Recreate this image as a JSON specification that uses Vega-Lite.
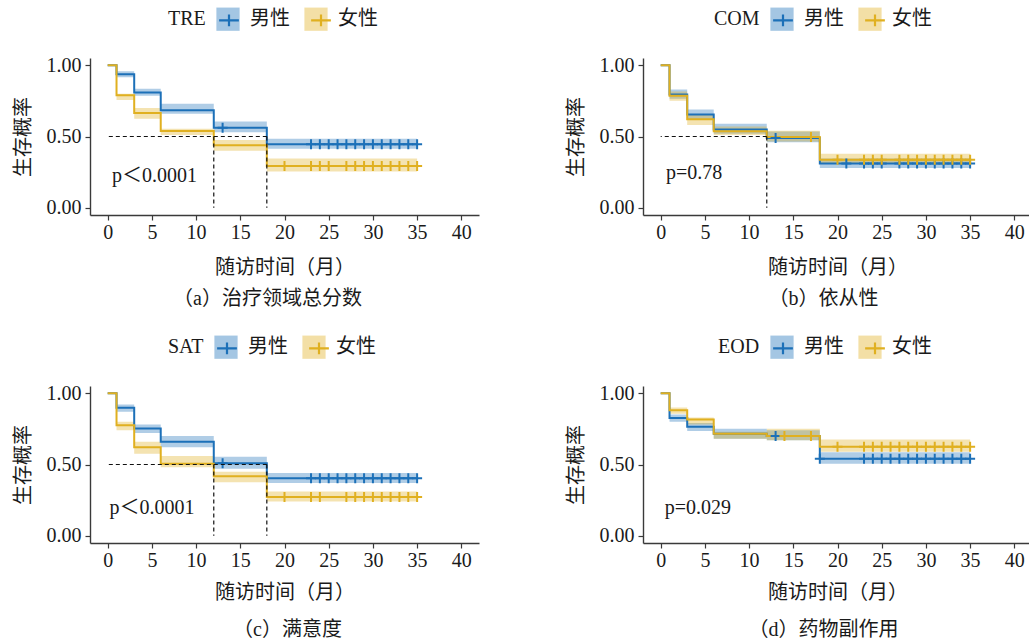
{
  "$schema": "https://vega.github.io/schema/vega-lite/v6.json",
  "background": "white",
  "padding": {"left": 13, "top": 7, "right": 0, "bottom": 0},
  "config": {
    "font": "'Liberation Serif', 'Noto Sans CJK SC'",
    "view": {"stroke": null},
    "axis": {"grid": false, "domainColor": "#3a3a3a", "tickColor": "#3a3a3a", "domainWidth": 1.4, "tickWidth": 1.2, "tickSize": 5, "labelFontSize": 20, "labelColor": "#1a1a1a", "titleFontSize": 20, "titleFontWeight": "normal", "titleColor": "#1a1a1a", "labelOverlap": false, "labelFlush": false},
    "axisX": {"labelPadding": 2},
    "axisY": {"labelPadding": 4, "titlePadding": 13},
    "legend": {"padding": 0, "labelFontSize": 20, "titleFontSize": 20, "titleFontWeight": "normal", "labelColor": "#1a1a1a", "titleColor": "#1a1a1a"},
    "title": {"orient": "bottom", "fontSize": 20, "fontWeight": "normal", "color": "#1a1a1a", "anchor": "middle", "frame": "group"}
  },
  "datasets": {
    "a_curve": [
      {"sex": "男性", "t": 0, "s": 1, "lo": 1, "hi": 1},
      {"sex": "男性", "t": 1, "s": 0.937, "lo": 0.915, "hi": 0.957},
      {"sex": "男性", "t": 3, "s": 0.808, "lo": 0.785, "hi": 0.835},
      {"sex": "男性", "t": 6, "s": 0.684, "lo": 0.66, "hi": 0.73},
      {"sex": "男性", "t": 12, "s": 0.562, "lo": 0.53, "hi": 0.605},
      {"sex": "男性", "t": 18, "s": 0.445, "lo": 0.415, "hi": 0.485},
      {"sex": "男性", "t": 35, "s": 0.445, "lo": 0.415, "hi": 0.485},
      {"sex": "女性", "t": 0, "s": 1, "lo": 1, "hi": 1},
      {"sex": "女性", "t": 1, "s": 0.789, "lo": 0.755, "hi": 0.8},
      {"sex": "女性", "t": 3, "s": 0.665, "lo": 0.625, "hi": 0.7},
      {"sex": "女性", "t": 6, "s": 0.539, "lo": 0.51, "hi": 0.555},
      {"sex": "女性", "t": 12, "s": 0.438, "lo": 0.4, "hi": 0.475},
      {"sex": "女性", "t": 18, "s": 0.293, "lo": 0.255, "hi": 0.345},
      {"sex": "女性", "t": 35, "s": 0.293, "lo": 0.255, "hi": 0.345}
    ],
    "a_cens": [
      {"sex": "男性", "t": 13, "s": 0.562},
      {"sex": "男性", "t": 23, "s": 0.445}, {"sex": "男性", "t": 24, "s": 0.445}, {"sex": "男性", "t": 25, "s": 0.445},
      {"sex": "男性", "t": 26, "s": 0.445}, {"sex": "男性", "t": 27, "s": 0.445}, {"sex": "男性", "t": 28, "s": 0.445},
      {"sex": "男性", "t": 29, "s": 0.445}, {"sex": "男性", "t": 30, "s": 0.445}, {"sex": "男性", "t": 31, "s": 0.445},
      {"sex": "男性", "t": 32, "s": 0.445}, {"sex": "男性", "t": 33, "s": 0.445}, {"sex": "男性", "t": 34, "s": 0.445},
      {"sex": "男性", "t": 35, "s": 0.445},
      {"sex": "女性", "t": 20, "s": 0.293},
      {"sex": "女性", "t": 23, "s": 0.293}, {"sex": "女性", "t": 24, "s": 0.293}, {"sex": "女性", "t": 25, "s": 0.293},
      {"sex": "女性", "t": 27, "s": 0.293}, {"sex": "女性", "t": 28, "s": 0.293}, {"sex": "女性", "t": 29, "s": 0.293},
      {"sex": "女性", "t": 30, "s": 0.293}, {"sex": "女性", "t": 31, "s": 0.293}, {"sex": "女性", "t": 32, "s": 0.293},
      {"sex": "女性", "t": 33, "s": 0.293}, {"sex": "女性", "t": 34, "s": 0.293}, {"sex": "女性", "t": 35, "s": 0.293}
    ],
    "a_med": [{"t": 12}, {"t": 18}],
    "b_curve": [
      {"sex": "男性", "t": 0, "s": 1, "lo": 1, "hi": 1},
      {"sex": "男性", "t": 1, "s": 0.794, "lo": 0.765, "hi": 0.83},
      {"sex": "男性", "t": 3, "s": 0.654, "lo": 0.62, "hi": 0.69},
      {"sex": "男性", "t": 6, "s": 0.549, "lo": 0.52, "hi": 0.59},
      {"sex": "男性", "t": 12, "s": 0.49, "lo": 0.46, "hi": 0.535},
      {"sex": "男性", "t": 18, "s": 0.31, "lo": 0.28, "hi": 0.345},
      {"sex": "男性", "t": 35, "s": 0.31, "lo": 0.28, "hi": 0.345},
      {"sex": "女性", "t": 0, "s": 1, "lo": 1, "hi": 1},
      {"sex": "女性", "t": 1, "s": 0.785, "lo": 0.75, "hi": 0.815},
      {"sex": "女性", "t": 3, "s": 0.62, "lo": 0.58, "hi": 0.65},
      {"sex": "女性", "t": 6, "s": 0.537, "lo": 0.51, "hi": 0.57},
      {"sex": "女性", "t": 12, "s": 0.497, "lo": 0.465, "hi": 0.54},
      {"sex": "女性", "t": 18, "s": 0.337, "lo": 0.31, "hi": 0.38},
      {"sex": "女性", "t": 35, "s": 0.337, "lo": 0.31, "hi": 0.38}
    ],
    "b_cens": [
      {"sex": "男性", "t": 13, "s": 0.49},
      {"sex": "男性", "t": 21, "s": 0.31},
      {"sex": "男性", "t": 23, "s": 0.31}, {"sex": "男性", "t": 24, "s": 0.31}, {"sex": "男性", "t": 25, "s": 0.31},
      {"sex": "男性", "t": 27, "s": 0.31}, {"sex": "男性", "t": 28, "s": 0.31}, {"sex": "男性", "t": 29, "s": 0.31},
      {"sex": "男性", "t": 30, "s": 0.31}, {"sex": "男性", "t": 31, "s": 0.31}, {"sex": "男性", "t": 32, "s": 0.31},
      {"sex": "男性", "t": 33, "s": 0.31}, {"sex": "男性", "t": 34, "s": 0.31}, {"sex": "男性", "t": 35, "s": 0.31},
      {"sex": "女性", "t": 17, "s": 0.497},
      {"sex": "女性", "t": 20, "s": 0.337},
      {"sex": "女性", "t": 23, "s": 0.337}, {"sex": "女性", "t": 24, "s": 0.337}, {"sex": "女性", "t": 25, "s": 0.337},
      {"sex": "女性", "t": 27, "s": 0.337}, {"sex": "女性", "t": 28, "s": 0.337}, {"sex": "女性", "t": 29, "s": 0.337},
      {"sex": "女性", "t": 30, "s": 0.337}, {"sex": "女性", "t": 31, "s": 0.337}, {"sex": "女性", "t": 32, "s": 0.337},
      {"sex": "女性", "t": 33, "s": 0.337}, {"sex": "女性", "t": 34, "s": 0.337}, {"sex": "女性", "t": 35, "s": 0.337}
    ],
    "b_med": [{"t": 12}],
    "c_curve": [
      {"sex": "男性", "t": 0, "s": 1, "lo": 1, "hi": 1},
      {"sex": "男性", "t": 1, "s": 0.898, "lo": 0.87, "hi": 0.92},
      {"sex": "男性", "t": 3, "s": 0.752, "lo": 0.72, "hi": 0.78},
      {"sex": "男性", "t": 6, "s": 0.66, "lo": 0.62, "hi": 0.7},
      {"sex": "男性", "t": 12, "s": 0.509, "lo": 0.47, "hi": 0.555},
      {"sex": "男性", "t": 18, "s": 0.403, "lo": 0.37, "hi": 0.44},
      {"sex": "男性", "t": 35, "s": 0.403, "lo": 0.37, "hi": 0.44},
      {"sex": "女性", "t": 0, "s": 1, "lo": 1, "hi": 1},
      {"sex": "女性", "t": 1, "s": 0.775, "lo": 0.74, "hi": 0.8},
      {"sex": "女性", "t": 3, "s": 0.62, "lo": 0.575, "hi": 0.66},
      {"sex": "女性", "t": 6, "s": 0.505, "lo": 0.48, "hi": 0.56},
      {"sex": "女性", "t": 12, "s": 0.417, "lo": 0.375, "hi": 0.45},
      {"sex": "女性", "t": 18, "s": 0.273, "lo": 0.24, "hi": 0.31},
      {"sex": "女性", "t": 35, "s": 0.273, "lo": 0.24, "hi": 0.31}
    ],
    "c_cens": [
      {"sex": "男性", "t": 13, "s": 0.509},
      {"sex": "男性", "t": 23, "s": 0.403}, {"sex": "男性", "t": 24, "s": 0.403}, {"sex": "男性", "t": 25, "s": 0.403},
      {"sex": "男性", "t": 26, "s": 0.403}, {"sex": "男性", "t": 27, "s": 0.403}, {"sex": "男性", "t": 28, "s": 0.403},
      {"sex": "男性", "t": 29, "s": 0.403}, {"sex": "男性", "t": 30, "s": 0.403}, {"sex": "男性", "t": 31, "s": 0.403},
      {"sex": "男性", "t": 32, "s": 0.403}, {"sex": "男性", "t": 33, "s": 0.403}, {"sex": "男性", "t": 34, "s": 0.403},
      {"sex": "男性", "t": 35, "s": 0.403},
      {"sex": "女性", "t": 20, "s": 0.273},
      {"sex": "女性", "t": 23, "s": 0.273}, {"sex": "女性", "t": 24, "s": 0.273},
      {"sex": "女性", "t": 27, "s": 0.273}, {"sex": "女性", "t": 28, "s": 0.273}, {"sex": "女性", "t": 29, "s": 0.273},
      {"sex": "女性", "t": 30, "s": 0.273}, {"sex": "女性", "t": 31, "s": 0.273}, {"sex": "女性", "t": 32, "s": 0.273},
      {"sex": "女性", "t": 33, "s": 0.273}, {"sex": "女性", "t": 34, "s": 0.273}, {"sex": "女性", "t": 35, "s": 0.273}
    ],
    "c_med": [{"t": 12}, {"t": 18}],
    "d_curve": [
      {"sex": "男性", "t": 0, "s": 1, "lo": 1, "hi": 1},
      {"sex": "男性", "t": 1, "s": 0.826, "lo": 0.8, "hi": 0.85},
      {"sex": "男性", "t": 3, "s": 0.764, "lo": 0.735, "hi": 0.79},
      {"sex": "男性", "t": 6, "s": 0.715, "lo": 0.68, "hi": 0.75},
      {"sex": "男性", "t": 12, "s": 0.7, "lo": 0.67, "hi": 0.74},
      {"sex": "男性", "t": 18, "s": 0.54, "lo": 0.505, "hi": 0.585},
      {"sex": "男性", "t": 35, "s": 0.54, "lo": 0.505, "hi": 0.585},
      {"sex": "女性", "t": 0, "s": 1, "lo": 1, "hi": 1},
      {"sex": "女性", "t": 1, "s": 0.88, "lo": 0.855, "hi": 0.9},
      {"sex": "女性", "t": 3, "s": 0.815, "lo": 0.78, "hi": 0.83},
      {"sex": "女性", "t": 6, "s": 0.715, "lo": 0.68, "hi": 0.73},
      {"sex": "女性", "t": 12, "s": 0.7, "lo": 0.67, "hi": 0.75},
      {"sex": "女性", "t": 18, "s": 0.625, "lo": 0.59, "hi": 0.675},
      {"sex": "女性", "t": 35, "s": 0.625, "lo": 0.59, "hi": 0.675}
    ],
    "d_cens": [
      {"sex": "男性", "t": 13, "s": 0.7},
      {"sex": "男性", "t": 18, "s": 0.54},
      {"sex": "男性", "t": 23, "s": 0.54}, {"sex": "男性", "t": 24, "s": 0.54}, {"sex": "男性", "t": 25, "s": 0.54},
      {"sex": "男性", "t": 26, "s": 0.54}, {"sex": "男性", "t": 27, "s": 0.54}, {"sex": "男性", "t": 28, "s": 0.54},
      {"sex": "男性", "t": 29, "s": 0.54}, {"sex": "男性", "t": 30, "s": 0.54}, {"sex": "男性", "t": 31, "s": 0.54},
      {"sex": "男性", "t": 32, "s": 0.54}, {"sex": "男性", "t": 33, "s": 0.54}, {"sex": "男性", "t": 34, "s": 0.54},
      {"sex": "男性", "t": 35, "s": 0.54},
      {"sex": "女性", "t": 14, "s": 0.7},
      {"sex": "女性", "t": 17, "s": 0.7},
      {"sex": "女性", "t": 20, "s": 0.625},
      {"sex": "女性", "t": 23, "s": 0.625}, {"sex": "女性", "t": 24, "s": 0.625}, {"sex": "女性", "t": 25, "s": 0.625},
      {"sex": "女性", "t": 26, "s": 0.625}, {"sex": "女性", "t": 27, "s": 0.625}, {"sex": "女性", "t": 28, "s": 0.625},
      {"sex": "女性", "t": 29, "s": 0.625}, {"sex": "女性", "t": 30, "s": 0.625}, {"sex": "女性", "t": 31, "s": 0.625},
      {"sex": "女性", "t": 32, "s": 0.625}, {"sex": "女性", "t": 33, "s": 0.625}, {"sex": "女性", "t": 34, "s": 0.625},
      {"sex": "女性", "t": 35, "s": 0.625}
    ]
  },
  "spacing": 26,
  "vconcat": [
    {
      "spacing": 87,
      "hconcat": [
        {
          "width": 389, "height": 157,
          "title": {"text": "（a）治疗领域总分数", "dx": -17, "offset": 12},
          "resolve": {"scale": {"fill": "independent", "stroke": "independent"}},
          "layer": [
            {"data": {"name": "a_curve"}, "mark": {"type": "area", "interpolate": "step-after", "fillOpacity": 0.35},
             "encoding": {
               "x": {"field": "t", "type": "quantitative", "title": "随访时间（月）", "scale": {"domain": [-2, 42], "nice": false, "zero": false}, "axis": {"values": [0, 5, 10, 15, 20, 25, 30, 35, 40], "titlePadding": 15}},
               "y": {"field": "lo", "type": "quantitative", "title": "生存概率", "scale": {"domain": [-0.05, 1.05], "nice": false, "zero": false}, "axis": {"values": [0, 0.25, 0.5, 0.75, 1], "format": ".2f"}},
               "y2": {"field": "hi"},
               "fill": {"field": "sex", "type": "nominal", "scale": {"domain": ["男性", "女性"], "range": ["#1C70B8", "#E0B020"]},
                        "legend": {"title": "TRE", "orient": "none", "legendX": 78, "legendY": -51, "direction": "horizontal", "titleOrient": "left", "titlePadding": 10, "symbolType": "square", "symbolSize": 540, "symbolOpacity": 0.4, "symbolStrokeWidth": 0, "labelOffset": 10, "columnPadding": 14}}
             }},
            {"data": {"name": "a_curve"}, "mark": {"type": "line", "interpolate": "step-after", "strokeWidth": 2},
             "encoding": {
               "x": {"field": "t", "type": "quantitative", "title": "随访时间（月）"},
               "y": {"field": "s", "type": "quantitative", "title": "生存概率"},
               "stroke": {"field": "sex", "type": "nominal", "scale": {"domain": ["男性", "女性"], "range": ["#1C70B8", "#E0B020"]},
                          "legend": {"title": "TRE", "orient": "none", "legendX": 78, "legendY": -51, "direction": "horizontal", "titleOrient": "left", "titlePadding": 10, "symbolType": "M-0.85,0H0.85M0,-0.5V0.5", "symbolSize": 540, "symbolStrokeWidth": 2.2, "symbolFillColor": "transparent", "labelOffset": 10, "columnPadding": 14, "titleColor": "transparent", "labelColor": "transparent"}}
             }},
            {"data": {"name": "a_cens"}, "mark": {"type": "point", "shape": "M-1,0H1M0,-1V1", "filled": false, "size": 100, "strokeWidth": 2, "opacity": 1},
             "encoding": {
               "x": {"field": "t", "type": "quantitative", "title": "随访时间（月）"},
               "y": {"field": "s", "type": "quantitative", "title": "生存概率"},
               "stroke": {"field": "sex", "type": "nominal", "scale": {"domain": ["男性", "女性"], "range": ["#1C70B8", "#E0B020"]}, "legend": null}
             }},
            {"data": {"name": "a_med"}, "mark": {"type": "rule", "strokeDash": [4, 3], "color": "#111111", "strokeWidth": 1.2},
             "encoding": {
               "x": {"field": "t", "type": "quantitative", "title": "随访时间（月）"},
               "y": {"datum": 0.5, "type": "quantitative"},
               "y2": {"datum": 0}
             }},
            {"data": {"name": "a_med"}, "transform": [{"aggregate": [{"op": "max", "field": "t", "as": "t"}]}],
             "mark": {"type": "rule", "strokeDash": [4, 3], "color": "#111111", "strokeWidth": 1.2},
             "encoding": {
               "x": {"field": "t", "type": "quantitative", "title": "随访时间（月）"},
               "x2": {"datum": 0},
               "y": {"datum": 0.5, "type": "quantitative"}
             }},
            {"data": {"values": [{"label": "p＜0.0001"}]}, "mark": {"type": "text", "align": "left", "baseline": "middle", "fontSize": 20, "color": "#1a1a1a"},
             "encoding": {
               "x": {"datum": 0.5, "type": "quantitative"},
               "y": {"datum": 0.22, "type": "quantitative"},
               "text": {"field": "label", "type": "nominal"}
             }}
          ]
        },
        {
          "width": 389, "height": 157,
          "title": {"text": "（b）依从性", "dx": -14, "offset": 12},
          "resolve": {"scale": {"fill": "independent", "stroke": "independent"}},
          "layer": [
            {"data": {"name": "b_curve"}, "mark": {"type": "area", "interpolate": "step-after", "fillOpacity": 0.35},
             "encoding": {
               "x": {"field": "t", "type": "quantitative", "title": "随访时间（月）", "scale": {"domain": [-2, 42], "nice": false, "zero": false}, "axis": {"values": [0, 5, 10, 15, 20, 25, 30, 35, 40], "titlePadding": 15}},
               "y": {"field": "lo", "type": "quantitative", "title": "生存概率", "scale": {"domain": [-0.05, 1.05], "nice": false, "zero": false}, "axis": {"values": [0, 0.25, 0.5, 0.75, 1], "format": ".2f"}},
               "y2": {"field": "hi"},
               "fill": {"field": "sex", "type": "nominal", "scale": {"domain": ["男性", "女性"], "range": ["#1C70B8", "#E0B020"]},
                        "legend": {"title": "COM", "orient": "none", "legendX": 71, "legendY": -51, "direction": "horizontal", "titleOrient": "left", "titlePadding": 10, "symbolType": "square", "symbolSize": 540, "symbolOpacity": 0.4, "symbolStrokeWidth": 0, "labelOffset": 10, "columnPadding": 14}}
             }},
            {"data": {"name": "b_curve"}, "mark": {"type": "line", "interpolate": "step-after", "strokeWidth": 2},
             "encoding": {
               "x": {"field": "t", "type": "quantitative", "title": "随访时间（月）"},
               "y": {"field": "s", "type": "quantitative", "title": "生存概率"},
               "stroke": {"field": "sex", "type": "nominal", "scale": {"domain": ["男性", "女性"], "range": ["#1C70B8", "#E0B020"]},
                          "legend": {"title": "COM", "orient": "none", "legendX": 71, "legendY": -51, "direction": "horizontal", "titleOrient": "left", "titlePadding": 10, "symbolType": "M-0.85,0H0.85M0,-0.5V0.5", "symbolSize": 540, "symbolStrokeWidth": 2.2, "symbolFillColor": "transparent", "labelOffset": 10, "columnPadding": 14, "titleColor": "transparent", "labelColor": "transparent"}}
             }},
            {"data": {"name": "b_cens"}, "mark": {"type": "point", "shape": "M-1,0H1M0,-1V1", "filled": false, "size": 100, "strokeWidth": 2, "opacity": 1},
             "encoding": {
               "x": {"field": "t", "type": "quantitative", "title": "随访时间（月）"},
               "y": {"field": "s", "type": "quantitative", "title": "生存概率"},
               "stroke": {"field": "sex", "type": "nominal", "scale": {"domain": ["男性", "女性"], "range": ["#1C70B8", "#E0B020"]}, "legend": null}
             }},
            {"data": {"name": "b_med"}, "mark": {"type": "rule", "strokeDash": [4, 3], "color": "#111111", "strokeWidth": 1.2},
             "encoding": {
               "x": {"field": "t", "type": "quantitative", "title": "随访时间（月）"},
               "y": {"datum": 0.5, "type": "quantitative"},
               "y2": {"datum": 0}
             }},
            {"data": {"name": "b_med"}, "transform": [{"aggregate": [{"op": "max", "field": "t", "as": "t"}]}],
             "mark": {"type": "rule", "strokeDash": [4, 3], "color": "#111111", "strokeWidth": 1.2},
             "encoding": {
               "x": {"field": "t", "type": "quantitative", "title": "随访时间（月）"},
               "x2": {"datum": 0},
               "y": {"datum": 0.5, "type": "quantitative"}
             }},
            {"data": {"values": [{"label": "p=0.78"}]}, "mark": {"type": "text", "align": "left", "baseline": "middle", "fontSize": 20, "color": "#1a1a1a"},
             "encoding": {
               "x": {"datum": 0.6, "type": "quantitative"},
               "y": {"datum": 0.245, "type": "quantitative"},
               "text": {"field": "label", "type": "nominal"}
             }}
          ]
        }
      ]
    },
    {
      "spacing": 87,
      "hconcat": [
        {
          "width": 389, "height": 157,
          "title": {"text": "（c）满意度", "dx": 3, "offset": 18},
          "resolve": {"scale": {"fill": "independent", "stroke": "independent"}},
          "layer": [
            {"data": {"name": "c_curve"}, "mark": {"type": "area", "interpolate": "step-after", "fillOpacity": 0.35},
             "encoding": {
               "x": {"field": "t", "type": "quantitative", "title": "随访时间（月）", "scale": {"domain": [-2, 42], "nice": false, "zero": false}, "axis": {"values": [0, 5, 10, 15, 20, 25, 30, 35, 40], "titlePadding": 12}},
               "y": {"field": "lo", "type": "quantitative", "title": "生存概率", "scale": {"domain": [-0.05, 1.05], "nice": false, "zero": false}, "axis": {"values": [0, 0.25, 0.5, 0.75, 1], "format": ".2f"}},
               "y2": {"field": "hi"},
               "fill": {"field": "sex", "type": "nominal", "scale": {"domain": ["男性", "女性"], "range": ["#1C70B8", "#E0B020"]},
                        "legend": {"title": "SAT", "orient": "none", "legendX": 78, "legendY": -51, "direction": "horizontal", "titleOrient": "left", "titlePadding": 10, "symbolType": "square", "symbolSize": 540, "symbolOpacity": 0.4, "symbolStrokeWidth": 0, "labelOffset": 10, "columnPadding": 14}}
             }},
            {"data": {"name": "c_curve"}, "mark": {"type": "line", "interpolate": "step-after", "strokeWidth": 2},
             "encoding": {
               "x": {"field": "t", "type": "quantitative", "title": "随访时间（月）"},
               "y": {"field": "s", "type": "quantitative", "title": "生存概率"},
               "stroke": {"field": "sex", "type": "nominal", "scale": {"domain": ["男性", "女性"], "range": ["#1C70B8", "#E0B020"]},
                          "legend": {"title": "SAT", "orient": "none", "legendX": 78, "legendY": -51, "direction": "horizontal", "titleOrient": "left", "titlePadding": 10, "symbolType": "M-0.85,0H0.85M0,-0.5V0.5", "symbolSize": 540, "symbolStrokeWidth": 2.2, "symbolFillColor": "transparent", "labelOffset": 10, "columnPadding": 14, "titleColor": "transparent", "labelColor": "transparent"}}
             }},
            {"data": {"name": "c_cens"}, "mark": {"type": "point", "shape": "M-1,0H1M0,-1V1", "filled": false, "size": 100, "strokeWidth": 2, "opacity": 1},
             "encoding": {
               "x": {"field": "t", "type": "quantitative", "title": "随访时间（月）"},
               "y": {"field": "s", "type": "quantitative", "title": "生存概率"},
               "stroke": {"field": "sex", "type": "nominal", "scale": {"domain": ["男性", "女性"], "range": ["#1C70B8", "#E0B020"]}, "legend": null}
             }},
            {"data": {"name": "c_med"}, "mark": {"type": "rule", "strokeDash": [4, 3], "color": "#111111", "strokeWidth": 1.2},
             "encoding": {
               "x": {"field": "t", "type": "quantitative", "title": "随访时间（月）"},
               "y": {"datum": 0.5, "type": "quantitative"},
               "y2": {"datum": 0}
             }},
            {"data": {"name": "c_med"}, "transform": [{"aggregate": [{"op": "max", "field": "t", "as": "t"}]}],
             "mark": {"type": "rule", "strokeDash": [4, 3], "color": "#111111", "strokeWidth": 1.2},
             "encoding": {
               "x": {"field": "t", "type": "quantitative", "title": "随访时间（月）"},
               "x2": {"datum": 0},
               "y": {"datum": 0.5, "type": "quantitative"}
             }},
            {"data": {"values": [{"label": "p＜0.0001"}]}, "mark": {"type": "text", "align": "left", "baseline": "middle", "fontSize": 20, "color": "#1a1a1a"},
             "encoding": {
               "x": {"datum": 0.2, "type": "quantitative"},
               "y": {"datum": 0.195, "type": "quantitative"},
               "text": {"field": "label", "type": "nominal"}
             }}
          ]
        },
        {
          "width": 389, "height": 157,
          "title": {"text": "（d）药物副作用", "dx": -14, "offset": 18},
          "resolve": {"scale": {"fill": "independent", "stroke": "independent"}},
          "layer": [
            {"data": {"name": "d_curve"}, "mark": {"type": "area", "interpolate": "step-after", "fillOpacity": 0.35},
             "encoding": {
               "x": {"field": "t", "type": "quantitative", "title": "随访时间（月）", "scale": {"domain": [-2, 42], "nice": false, "zero": false}, "axis": {"values": [0, 5, 10, 15, 20, 25, 30, 35, 40], "titlePadding": 12}},
               "y": {"field": "lo", "type": "quantitative", "title": "生存概率", "scale": {"domain": [-0.05, 1.05], "nice": false, "zero": false}, "axis": {"values": [0, 0.25, 0.5, 0.75, 1], "format": ".2f"}},
               "y2": {"field": "hi"},
               "fill": {"field": "sex", "type": "nominal", "scale": {"domain": ["男性", "女性"], "range": ["#1C70B8", "#E0B020"]},
                        "legend": {"title": "EOD", "orient": "none", "legendX": 75, "legendY": -51, "direction": "horizontal", "titleOrient": "left", "titlePadding": 10, "symbolType": "square", "symbolSize": 540, "symbolOpacity": 0.4, "symbolStrokeWidth": 0, "labelOffset": 10, "columnPadding": 14}}
             }},
            {"data": {"name": "d_curve"}, "mark": {"type": "line", "interpolate": "step-after", "strokeWidth": 2},
             "encoding": {
               "x": {"field": "t", "type": "quantitative", "title": "随访时间（月）"},
               "y": {"field": "s", "type": "quantitative", "title": "生存概率"},
               "stroke": {"field": "sex", "type": "nominal", "scale": {"domain": ["男性", "女性"], "range": ["#1C70B8", "#E0B020"]},
                          "legend": {"title": "EOD", "orient": "none", "legendX": 75, "legendY": -51, "direction": "horizontal", "titleOrient": "left", "titlePadding": 10, "symbolType": "M-0.85,0H0.85M0,-0.5V0.5", "symbolSize": 540, "symbolStrokeWidth": 2.2, "symbolFillColor": "transparent", "labelOffset": 10, "columnPadding": 14, "titleColor": "transparent", "labelColor": "transparent"}}
             }},
            {"data": {"name": "d_cens"}, "mark": {"type": "point", "shape": "M-1,0H1M0,-1V1", "filled": false, "size": 100, "strokeWidth": 2, "opacity": 1},
             "encoding": {
               "x": {"field": "t", "type": "quantitative", "title": "随访时间（月）"},
               "y": {"field": "s", "type": "quantitative", "title": "生存概率"},
               "stroke": {"field": "sex", "type": "nominal", "scale": {"domain": ["男性", "女性"], "range": ["#1C70B8", "#E0B020"]}, "legend": null}
             }},
            {"data": {"values": [{"label": "p=0.029"}]}, "mark": {"type": "text", "align": "left", "baseline": "middle", "fontSize": 20, "color": "#1a1a1a"},
             "encoding": {
               "x": {"datum": 0.45, "type": "quantitative"},
               "y": {"datum": 0.195, "type": "quantitative"},
               "text": {"field": "label", "type": "nominal"}
             }}
          ]
        }
      ]
    }
  ]
}
